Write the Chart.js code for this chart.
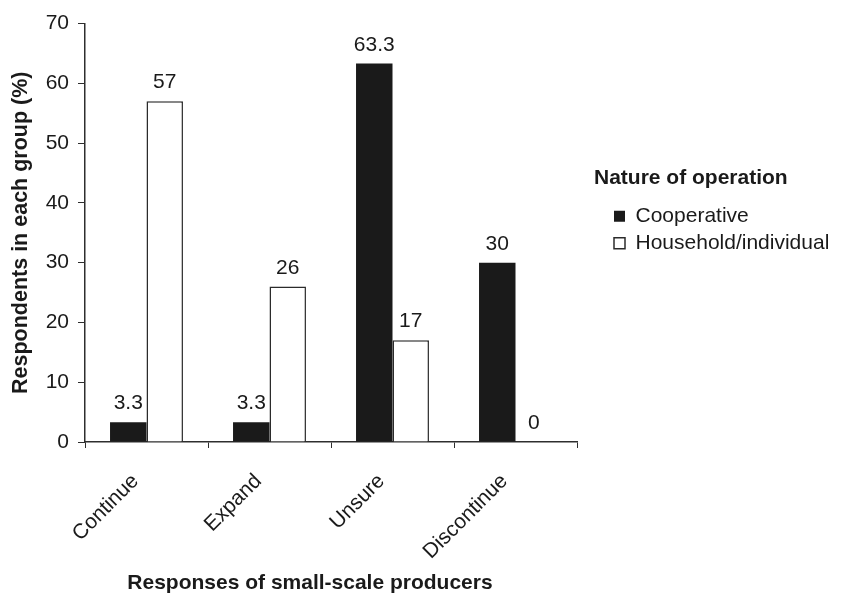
<!DOCTYPE html>
<html>
<head>
<meta charset="utf-8">
<script src="https://cdn.jsdelivr.net/npm/chart.js@4.4.1/dist/chart.umd.min.js"></script>
<style>
  html, body { margin: 0; padding: 0; background: #ffffff; }
  #wrap { width: 843px; height: 595px; }
</style>
</head>
<body>
<div id="wrap"><canvas id="chart" width="843" height="595"></canvas></div>
<script>
// Survey responses by nature of operation (% of respondents in each group)
const categories = ['Continue', 'Expand', 'Unsure', 'Discontinue'];
const seriesNames = ['Cooperative', 'Household/individual'];
const cooperative = [3.3, 3.3, 63.3, 30];
const household = [57, 26, 17, 0];
const yTicks = [0, 10, 20, 30, 40, 50, 60, 70];

const xTitle = 'Responses of small-scale producers';
const yTitle = 'Respondents in each group (%)';
const legendTitle = 'Nature of operation';

const FAMILY = '"Liberation Sans", Arial, Helvetica, sans-serif';
const INK = '#1a1a1a';
const AXIS = '#2e2e2e';

Chart.defaults.font.family = FAMILY;
Chart.defaults.font.size = 21;
Chart.defaults.color = INK;

// Numbers printed above each bar
const valueLabels = {
  id: 'valueLabels',
  afterDatasetsDraw(chart) {
    const ctx = chart.ctx;
    ctx.save();
    ctx.font = '21px ' + FAMILY;
    ctx.fillStyle = INK;
    ctx.textAlign = 'center';
    ctx.textBaseline = 'alphabetic';
    chart.data.datasets.forEach((ds, di) => {
      chart.getDatasetMeta(di).data.forEach((bar, i) => {
        ctx.fillText(String(ds.data[i]), bar.x, bar.y - 13);
      });
    });
    ctx.restore();
  }
};

// Axis caption under the rotated labels and the heading over the legend keys
const captions = {
  id: 'captions',
  afterDraw(chart) {
    const ctx = chart.ctx;
    ctx.save();
    ctx.font = 'bold 21px ' + FAMILY;
    ctx.fillStyle = INK;
    ctx.textBaseline = 'alphabetic';
    ctx.textAlign = 'center';
    ctx.fillText(xTitle, 310, 589);
    ctx.textAlign = 'left';
    ctx.fillText(legendTitle, 594, 184);
    ctx.restore();
  }
};

// Moves the legend keys into place beside the plot
const legendPlacement = {
  id: 'legendPlacement',
  afterLayout(chart) {
    const lg = chart.legend;
    if (!lg) return;
    const pad = lg.options.labels.padding;
    lg.left = 614 - pad;
    lg.right = chart.width;
    lg.width = lg.right - lg.left;
    lg.top = 205.7 - pad;
  }
};

new Chart(document.getElementById('chart'), {
  type: 'bar',
  data: {
    labels: categories,
    datasets: [
      {
        label: seriesNames[0],
        data: cooperative,
        backgroundColor: '#1a1a1a',
        borderWidth: 0
      },
      {
        label: seriesNames[1],
        data: household,
        backgroundColor: '#ffffff',
        borderColor: '#2b2b2b',
        borderWidth: 1.5
      }
    ]
  },
  options: {
    responsive: false,
    animation: false,
    events: [],
    devicePixelRatio: 1,
    layout: { padding: { left: 0, right: 66, top: 23.5, bottom: 0 } },
    datasets: {
      bar: { categoryPercentage: 0.593, barPercentage: 1.0 }
    },
    scales: {
      x: {
        offset: true,
        afterFit(scale) { scale.height = 153; },
        grid: {
          offset: true,
          drawOnChartArea: false,
          drawTicks: true,
          tickLength: 6,
          color: AXIS,
          lineWidth: 1
        },
        border: { display: true, color: AXIS, width: 1.5 },
        ticks: {
          autoSkip: false,
          minRotation: 45,
          maxRotation: 45,
          padding: 21,
          labelOffset: -11,
          color: INK,
          font: { size: 21 }
        },
        title: { display: false }
      },
      y: {
        min: 0,
        max: 70,
        afterFit(scale) { scale.width = 85; },
        afterBuildTicks(scale) { scale.ticks = yTicks.map(v => ({ value: v })); },
        grid: {
          drawOnChartArea: false,
          drawTicks: true,
          tickLength: 7,
          color: AXIS,
          lineWidth: 1
        },
        border: { display: true, color: AXIS, width: 1.5 },
        ticks: {
          padding: 9,
          color: INK,
          font: { size: 21 }
        },
        title: {
          display: true,
          text: yTitle,
          color: INK,
          font: { size: 21.5, weight: 'bold' },
          padding: { top: 8, bottom: 0 }
        }
      }
    },
    plugins: {
      tooltip: { enabled: false },
      legend: {
        display: true,
        position: 'right',
        align: 'start',
        maxWidth: 200,
        title: { display: false },
        labels: {
          boxWidth: 11,
          boxHeight: 11,
          padding: 6,
          color: INK,
          font: { size: 21 }
        }
      }
    }
  },
  plugins: [valueLabels, captions, legendPlacement]
});
</script>
</body>
</html>
